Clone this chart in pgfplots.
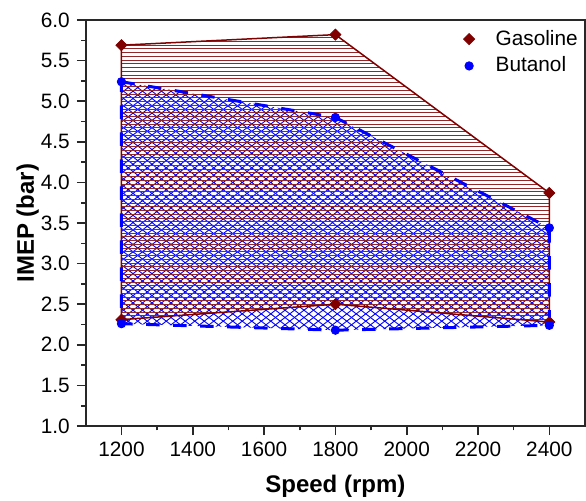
\documentclass[border=0pt]{standalone}
\usepackage{fontspec}
\setmainfont{Liberation Sans}
\usepackage{pgfplots}
\pgfplotsset{compat=1.18}
\usetikzlibrary{patterns.meta}
\definecolor{gasred}{RGB}{128,0,0}
\definecolor{butblue}{RGB}{0,0,255}
\definecolor{axgray}{RGB}{40,40,40}
\tikzdeclarepattern{
  name=GasLines,
  type=uncolored,
  bounding box={(0pt,-0.3pt) and (2pt,0.3pt)},
  tile size={(2pt,1.88pt)},
  code={\pgfsetlinewidth{0.4pt}\pgfpathmoveto{\pgfpoint{-0.1pt}{0pt}}\pgfpathlineto{\pgfpoint{2.1pt}{0pt}}\pgfusepathqstroke}
}
\tikzdeclarepattern{
  name=ButX,
  type=uncolored,
  bounding box={(-0.2pt,-0.2pt) and (4.95pt,3.85pt)},
  tile size={(4.75pt,3.65pt)},
  code={\pgfsetlinewidth{0.45pt}
    \pgfpathmoveto{\pgfpoint{0pt}{0pt}}\pgfpathlineto{\pgfpoint{4.75pt}{3.65pt}}
    \pgfpathmoveto{\pgfpoint{0pt}{3.65pt}}\pgfpathlineto{\pgfpoint{4.75pt}{0pt}}
    \pgfusepathqstroke}
}
\begin{document}
\begin{tikzpicture}
\useasboundingbox (-42.9pt,-37pt) rectangle (250.1pt,213pt);
\begin{axis}[
  scale only axis,
  width=249.6pt, height=203pt,
  xmin=1100, xmax=2500, ymin=1, ymax=6,
  xtick={1200,1400,...,2400},
  ytick={1,1.5,...,6},
  minor x tick num=1, minor y tick num=1,
  tick pos=left, tick align=outside,
  major tick length=4.5pt, minor tick length=2.2pt,
  axis line style={axgray, line width=1pt},
  every tick/.style={axgray, line width=0.8pt},
  every minor tick/.style={axgray, line width=0.8pt},
  /pgf/number format/assume math mode=true,
  xticklabel style={/pgf/number format/1000 sep={}},
  yticklabel style={/pgf/number format/fixed, /pgf/number format/fixed zerofill, /pgf/number format/precision=1},
  tick label style={font=\fontsize{10.4}{12}\selectfont},
  xlabel={Speed (rpm)}, ylabel={IMEP (bar)},
  label style={font=\bfseries\fontsize{12}{14}\selectfont},
  xlabel style={at={(axis description cs:0.5,-0.165)}, anchor=base},
  ylabel style={at={(axis description cs:-0.1042,0.5)}, anchor=base, rotate=0},
  legend style={at={(axis description cs:0.744,0.996)}, anchor=north west, draw=none, fill=none,
    font=\fontsize{10.4}{12}\selectfont, row sep=0.4pt, column sep=8.5pt},
  legend cell align=left,
]
% Butanol fill
\addplot[draw=none, pattern={ButX}, pattern color=butblue, forget plot]
  coordinates {(1200,5.24)(1800,4.80)(2400,3.44)(2400,2.24)(1800,2.18)(1200,2.26)} -- cycle;
% Gasoline fill and outline
\addplot[draw=gasred, line width=0.75pt, pattern={GasLines}, pattern color=gasred!85!white, forget plot]
  coordinates {(1200,5.69)(1800,5.82)(2400,3.87)(2400,2.28)(1800,2.50)(1200,2.31)} -- cycle;
% Butanol outline
\addplot[draw=butblue, line width=1.5pt, dash pattern=on 6.7pt off 6.8pt, forget plot]
  coordinates {(1200,5.24)(1800,4.80)(2400,3.44)(2400,2.24)(1800,2.18)(1200,2.26)} -- cycle;
% markers
\addplot[only marks, mark=square*, mark size=1.95pt, mark options={rotate=45}, color=gasred, forget plot]
  coordinates {(1200,5.69)(1800,5.82)(2400,3.87)(2400,2.28)(1800,2.50)(1200,2.31)};
\addplot[only marks, mark=*, mark size=2.1pt, color=butblue, forget plot]
  coordinates {(1200,5.24)(1800,4.80)(2400,3.44)(2400,2.24)(1800,2.18)(1200,2.26)};
\addlegendimage{only marks, mark=square*, mark size=1.95pt, mark options={rotate=45}, color=gasred}
\addlegendentry{Gasoline}
\addlegendimage{only marks, mark=*, mark size=2.1pt, color=butblue}
\addlegendentry{Butanol}
\end{axis}
\end{tikzpicture}
\end{document}
